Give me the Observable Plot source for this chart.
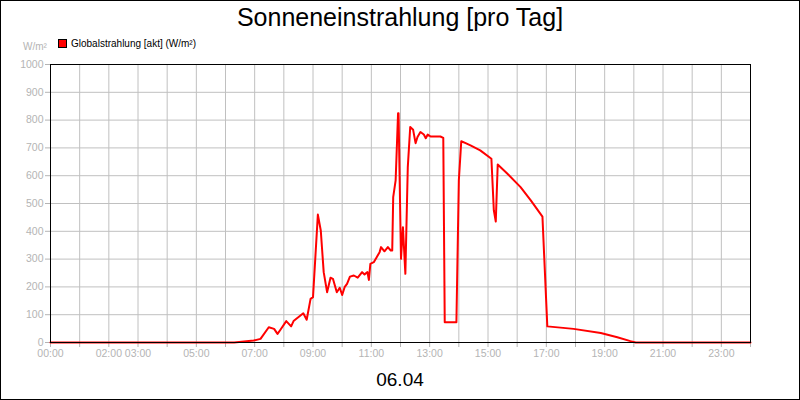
<!DOCTYPE html>
<html><head><meta charset="utf-8">
<script src="https://cdn.jsdelivr.net/npm/d3@7"></script>
<script src="https://cdn.jsdelivr.net/npm/@observablehq/plot@0.6"></script>
<style>
html,body{margin:0;padding:0;background:#fff;}
#wrap{position:relative;width:800px;height:400px;box-sizing:border-box;border:1px solid #000;background:#fff;font-family:"Liberation Sans",Arial,sans-serif;overflow:hidden;}
#head{position:relative;height:51px;}
#title{position:absolute;left:0;right:0;top:1px;text-align:center;font-size:25px;color:#000;line-height:30px;}
#unit{position:absolute;left:22px;top:40px;font-size:10px;color:#b4b4b4;}
#legend{position:absolute;left:57px;top:37px;font-size:10px;color:#000;display:flex;align-items:center;}
#legend span.sw{display:inline-block;width:7px;height:7px;background:#ff0000;border:1px solid #000;margin-right:4px;}
#foot{text-align:center;font-size:19px;color:#000;line-height:24px;margin-top:6px;}
svg{display:block;}
</style></head>
<body><div id="wrap">
<div id="head"><div id="title">Sonneneinstrahlung [pro Tag]</div>
<div id="unit">W/m²</div>
<div id="legend"><span class="sw"></span>Globalstrahlung [akt] (W/m²)</div></div>
<div id="chart"></div>
<div id="foot">06.04</div>
</div>
<script>
const times = ["00:00","06:18","06:58","07:12","07:29","07:40","07:47","07:53","08:05","08:15","08:20","08:40","08:47","08:55","09:00","09:10","09:16","09:22","09:29","09:36","09:41","09:49","09:55","10:00","10:05","10:10","10:16","10:24","10:32","10:41","10:46","10:52","10:55","10:58","11:05","11:11","11:17","11:20","11:27","11:34","11:40","11:43","11:45","11:50","11:55","11:56","12:01","12:05","12:10","12:15","12:20","12:26","12:31","12:35","12:41","12:48","12:52","12:56","13:02","13:22","13:28","13:31","13:55","14:00","14:05","14:14","14:24","14:44","15:07","15:12","15:16","15:20","15:40","16:07","16:28","16:52","17:02","17:56","18:52","19:26","19:53","20:04","24:00"];
const values = [0,0,7,13,55,49,31,46,77,58,77,105,82,157,163,460,403,253,181,233,229,181,197,171,199,211,237,241,233,253,245,253,225,283,289,307,325,343,328,343,331,331,523,583,825,825,301,415,247,631,775,765,717,739,757,748,735,748,741,741,736,73,73,583,724,717,709,691,661,475,435,640,607,559,511,453,58,49,34,19,5,0,0];
const hourTicks = d3.range(0,25);
const labeledHours = [0,2,3,5,7,9,11,13,15,17,19,21,23];
const yTicks = d3.range(0,1001,100);

const data = times.map((t,i)=>({h: +t.slice(0,2) + (+t.slice(3))/60, v: values[i]}));
const fmt = h => String(h).padStart(2,"0") + ":00";

const chart = Plot.plot({
  width: 798, height: 310,
  marginLeft: 49, marginRight: 49, marginTop: 12, marginBottom: 20,
  style: {fontFamily: "Liberation Sans, Arial, sans-serif", fontSize: "10.5px", background: "white", color: "#b4b4b4"},
  x: {domain: [0,24]},
  y: {domain: [0,1000]},
  marks: [
    Plot.gridX(hourTicks, {stroke: "#c0c0c0", strokeOpacity: 1}),
    Plot.gridY(yTicks, {stroke: "#c0c0c0", strokeOpacity: 1}),
    Plot.axisX(hourTicks, {tickSize: 5, tickPadding: 2, stroke: "#b4b4b4", fill: "#b4b4b4", label: null,
      tickFormat: h => labeledHours.includes(h) ? fmt(h) : ""}),
    Plot.axisY(yTicks, {tickSize: 5, tickPadding: 2, stroke: "#b4b4b4", fill: "#b4b4b4", label: null,
      tickFormat: d => String(d)}),
    Plot.line(data, {x: "h", y: "v", stroke: "#ff0000", strokeWidth: 2}),
    Plot.frame({stroke: "#000"})
  ]
});
document.getElementById("chart").appendChild(chart);
</script>
</body></html>
